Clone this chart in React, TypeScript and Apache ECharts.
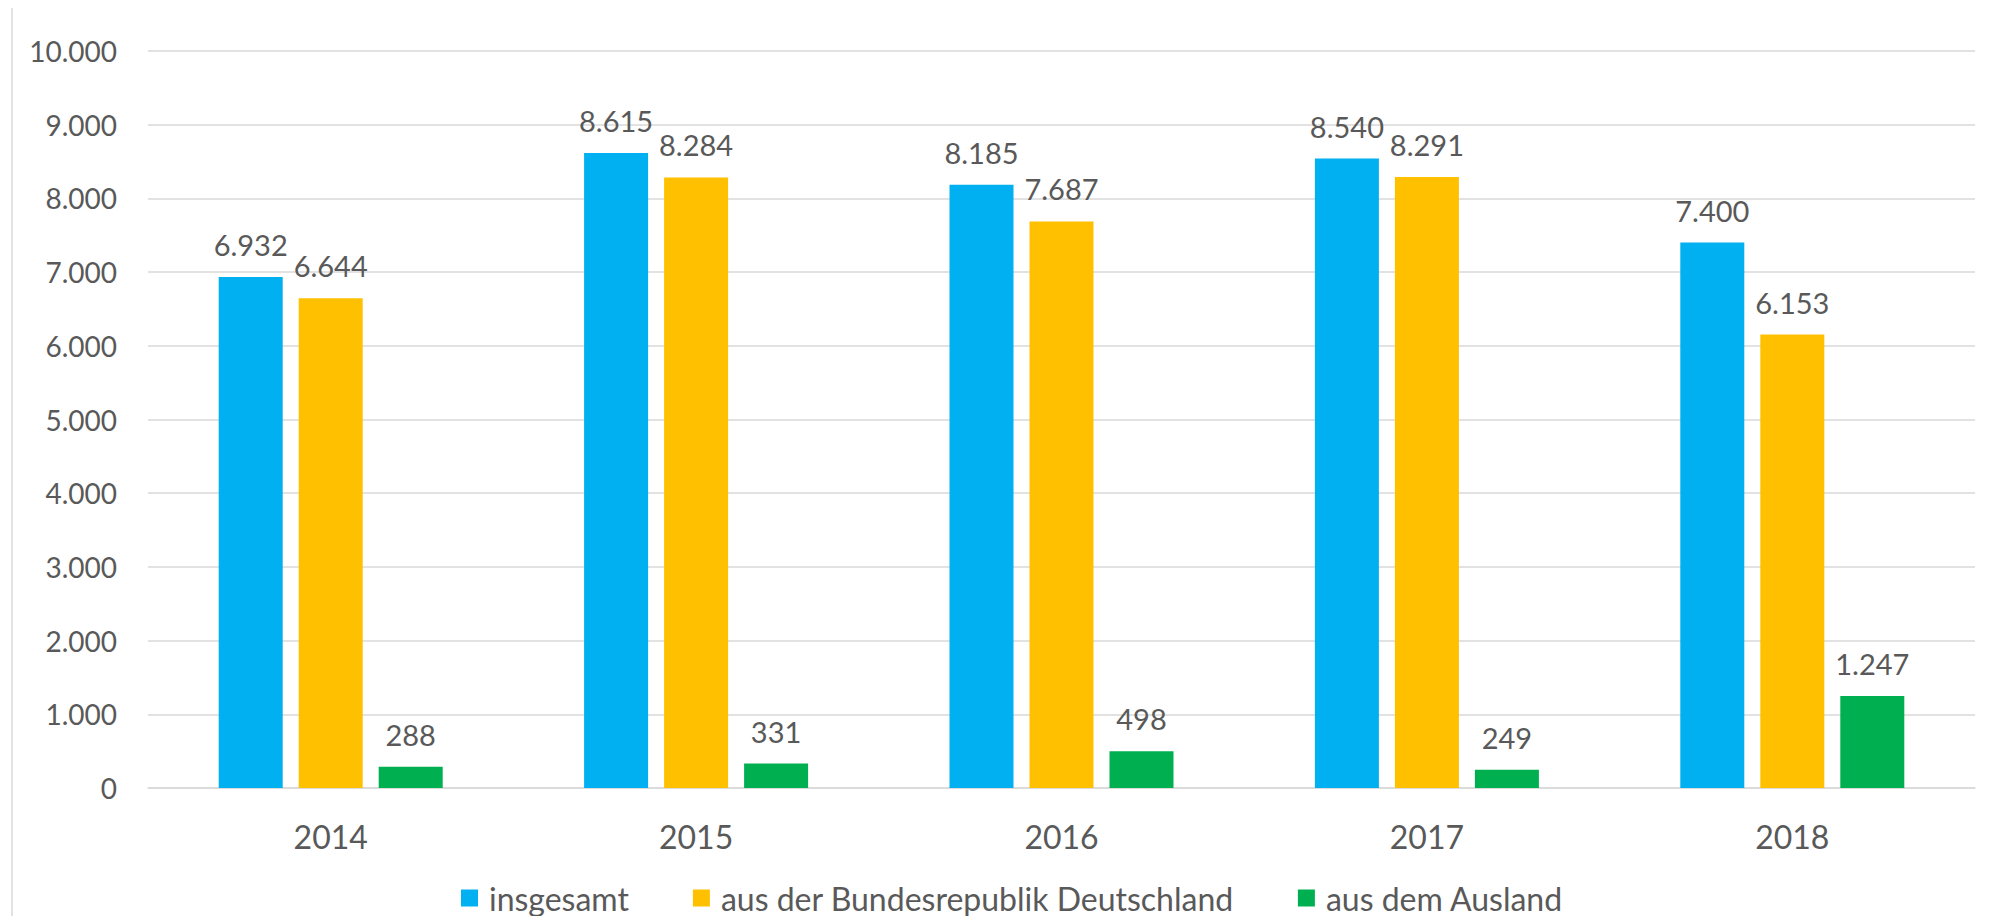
import React, { useEffect, useRef } from "react";
import * as echarts from "echarts";

const categories = ["2014", "2015", "2016", "2017", "2018"];
const seriesNames = ["insgesamt", "aus der Bundesrepublik Deutschland", "aus dem Ausland"];
const insgesamt = [6932, 8615, 8185, 8540, 7400];
const inland = [6644, 8284, 7687, 8291, 6153];
const ausland = [288, 331, 498, 249, 1247];
const colors = ["#00B0F0", "#FFC000", "#00B050"];

const fmt = (v: number) =>
  Math.round(v).toString().replace(/\B(?=(\d{3})+(?!\d))/g, ".");

const FONT = "Lato";
const TEXT = "#595959";

export default function App() {
  const ref = useRef<HTMLDivElement>(null);
  useEffect(() => {
    document.body.style.margin = "0";
    if (!ref.current) return;
    const chart = echarts.init(ref.current, undefined, { renderer: "svg" });
    const data = [insgesamt, inland, ausland];
    chart.setOption({
      animation: false,
      backgroundColor: "#ffffff",
      textStyle: { fontFamily: FONT, color: TEXT },
      grid: { left: 148, right: 20, top: 51, bottom: 128 },
      legend: {
        left: 461,
        top: 882,
        padding: 0,
        itemWidth: 17,
        itemHeight: 17,
        itemGap: 64,
        icon: "rect",
        textStyle: {
          fontFamily: FONT,
          fontSize: 32,
          lineHeight: 26,
          color: TEXT,
          padding: [0, 0, 0, 6],
        },
        data: seriesNames,
      },
      xAxis: {
        type: "category",
        data: categories,
        axisLine: { lineStyle: { color: "#d9d9d9", width: 1.5 } },
        axisTick: { show: false },
        axisLabel: { fontFamily: FONT, fontSize: 32, color: TEXT, margin: 32 },
      },
      yAxis: {
        type: "value",
        min: 0,
        max: 10000,
        interval: 1000,
        axisLine: { show: false },
        axisTick: { show: false },
        splitLine: { lineStyle: { color: "#d9d9d9", width: 1.5 } },
        axisLabel: {
          fontFamily: FONT,
          fontSize: 28,
          color: TEXT,
          margin: 31,
          formatter: (v: number) => fmt(v),
        },
      },
      graphic: [
        {
          type: "line",
          shape: { x1: 12, y1: 8, x2: 12, y2: 916 },
          style: { stroke: "#d9d9d9", lineWidth: 1.5 },
          silent: true,
        },
      ],
      series: seriesNames.map((name, i) => ({
        name,
        type: "bar",
        data: data[i],
        barWidth: 64,
        barGap: "25%",
        itemStyle: { color: colors[i] },
        label: {
          show: true,
          position: "top",
          distance: 18,
          fontFamily: FONT,
          fontSize: 29,
          color: TEXT,
          formatter: (p: any) => fmt(p.value),
        },
      })),
    });
    return () => chart.dispose();
  }, []);
  return <div ref={ref} style={{ width: 1995, height: 916 }} />;
}
